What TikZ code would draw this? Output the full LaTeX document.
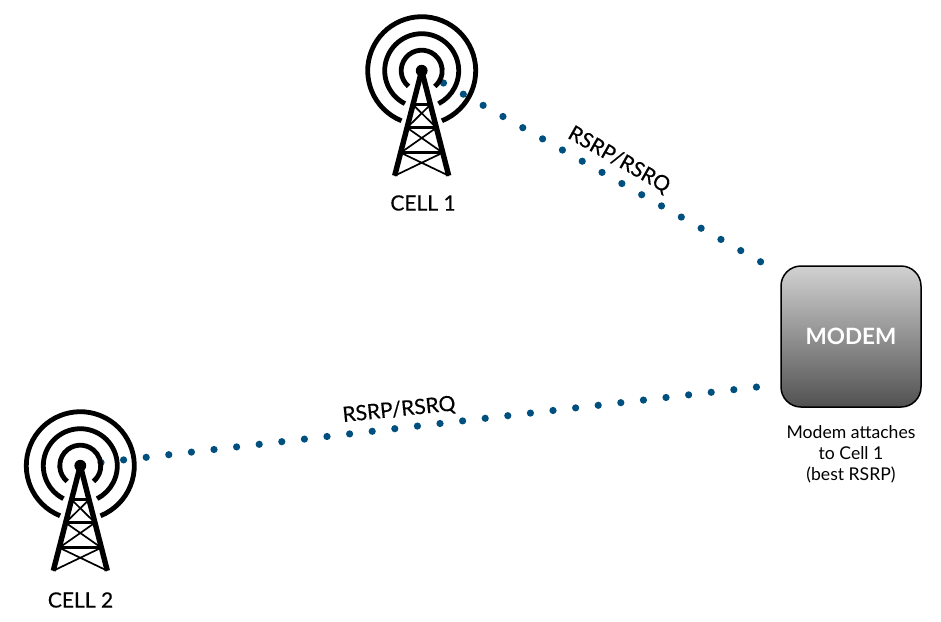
\documentclass[tikz,border=0pt]{standalone}
\usepackage{fontspec}
\setmainfont{Lato}
\newfontfamily\heavierlato[FakeBold=0.25]{Lato}
\definecolor{dotblue}{HTML}{00507F}
\tikzset{
  x=1pt,y=-1pt,
  radiowave/.style={draw=black,line width=4.8pt,line cap=butt},
  towerleg/.style={draw=black,line width=5.4pt,line cap=butt},
  towerbar/.style={draw=black,line width=2.8pt},
  towerx/.style={draw=black,line width=1.7pt},
  signal/.style={draw=dotblue,line width=7.2pt,line cap=round,dash pattern=on 0pt off 22.75pt},
  modembox/.style={draw=black,line width=1.5pt,rounded corners=20pt,top color=black!18,bottom color=black!68,
    minimum width=140pt,minimum height=141pt,inner sep=0pt,text=white,font=\fontsize{22.5}{25}\selectfont\bfseries},
  celllabel/.style={font=\fontsize{21}{24}\selectfont\heavierlato,text=black},
  linklabel/.style={font=\fontsize{21}{24}\selectfont\heavierlato,text=black},
  notelabel/.style={font=\fontsize{17.6}{21}\selectfont,align=center,text=black}
}
\newcommand{\celltower}[1]{%
  \begin{scope}[shift={(#1)}]
    \foreach \r/\g in {20.5/40,37/27,54/22}{
      \draw[radiowave] ({-\r*sin(\g)},{\r*cos(\g)}) arc[x radius=\r,y radius=-\r,start angle={270-\g},end angle={-90+\g}];
    }
    \fill[black] (0,0) circle[radius=5.9];
    \draw[towerleg] (0,0) -- (-27,105);
    \draw[towerleg] (0,0) -- (27,105);
    \draw[towerbar] (-9,34) -- (9,34) (-15,57) -- (15,57) (-21.5,82) -- (21.5,82);
    \draw[towerx] (-8.7,34) -- (14.7,57) (8.7,34) -- (-14.7,57)
                  (-14.7,57) -- (21,82) (14.7,57) -- (-21,82)
                  (-21,82) -- (27,105) (21,82) -- (-27,105);
  \end{scope}}
\begin{document}
\begin{tikzpicture}
\useasboundingbox[fill=white] (0,0) rectangle (941,621);
\coordinate (cellonecentre) at (421.7,70.7);
\coordinate (celltwocentre) at (80.3,465.7);
\coordinate (cellonesignal) at (443.5,83);
\coordinate (celltwosignal) at (101,462.5);
\coordinate (modemtop) at (761,262);
\coordinate (modemlow) at (757,387);
\draw[signal] (cellonesignal) -- (modemtop);
\draw[signal] (celltwosignal) -- (modemlow);
\celltower{cellonecentre}
\celltower{celltwocentre}
\node[modembox] (modem) at (851,336.5) {MODEM};
\node[celllabel] (cellonelabel) at (423,203) {CELL 1};
\node[celllabel] (celltwolabel) at (80.5,600) {CELL 2};
\node[linklabel,rotate=-29.5] (linkone) at (619,160) {RSRP/RSRQ};
\node[linklabel,rotate=6] (linktwo) at (399,410) {RSRP/RSRQ};
\node[notelabel] (note) at (851,454) {Modem attaches\\to Cell 1\\(best RSRP)};
\end{tikzpicture}
\end{document}
